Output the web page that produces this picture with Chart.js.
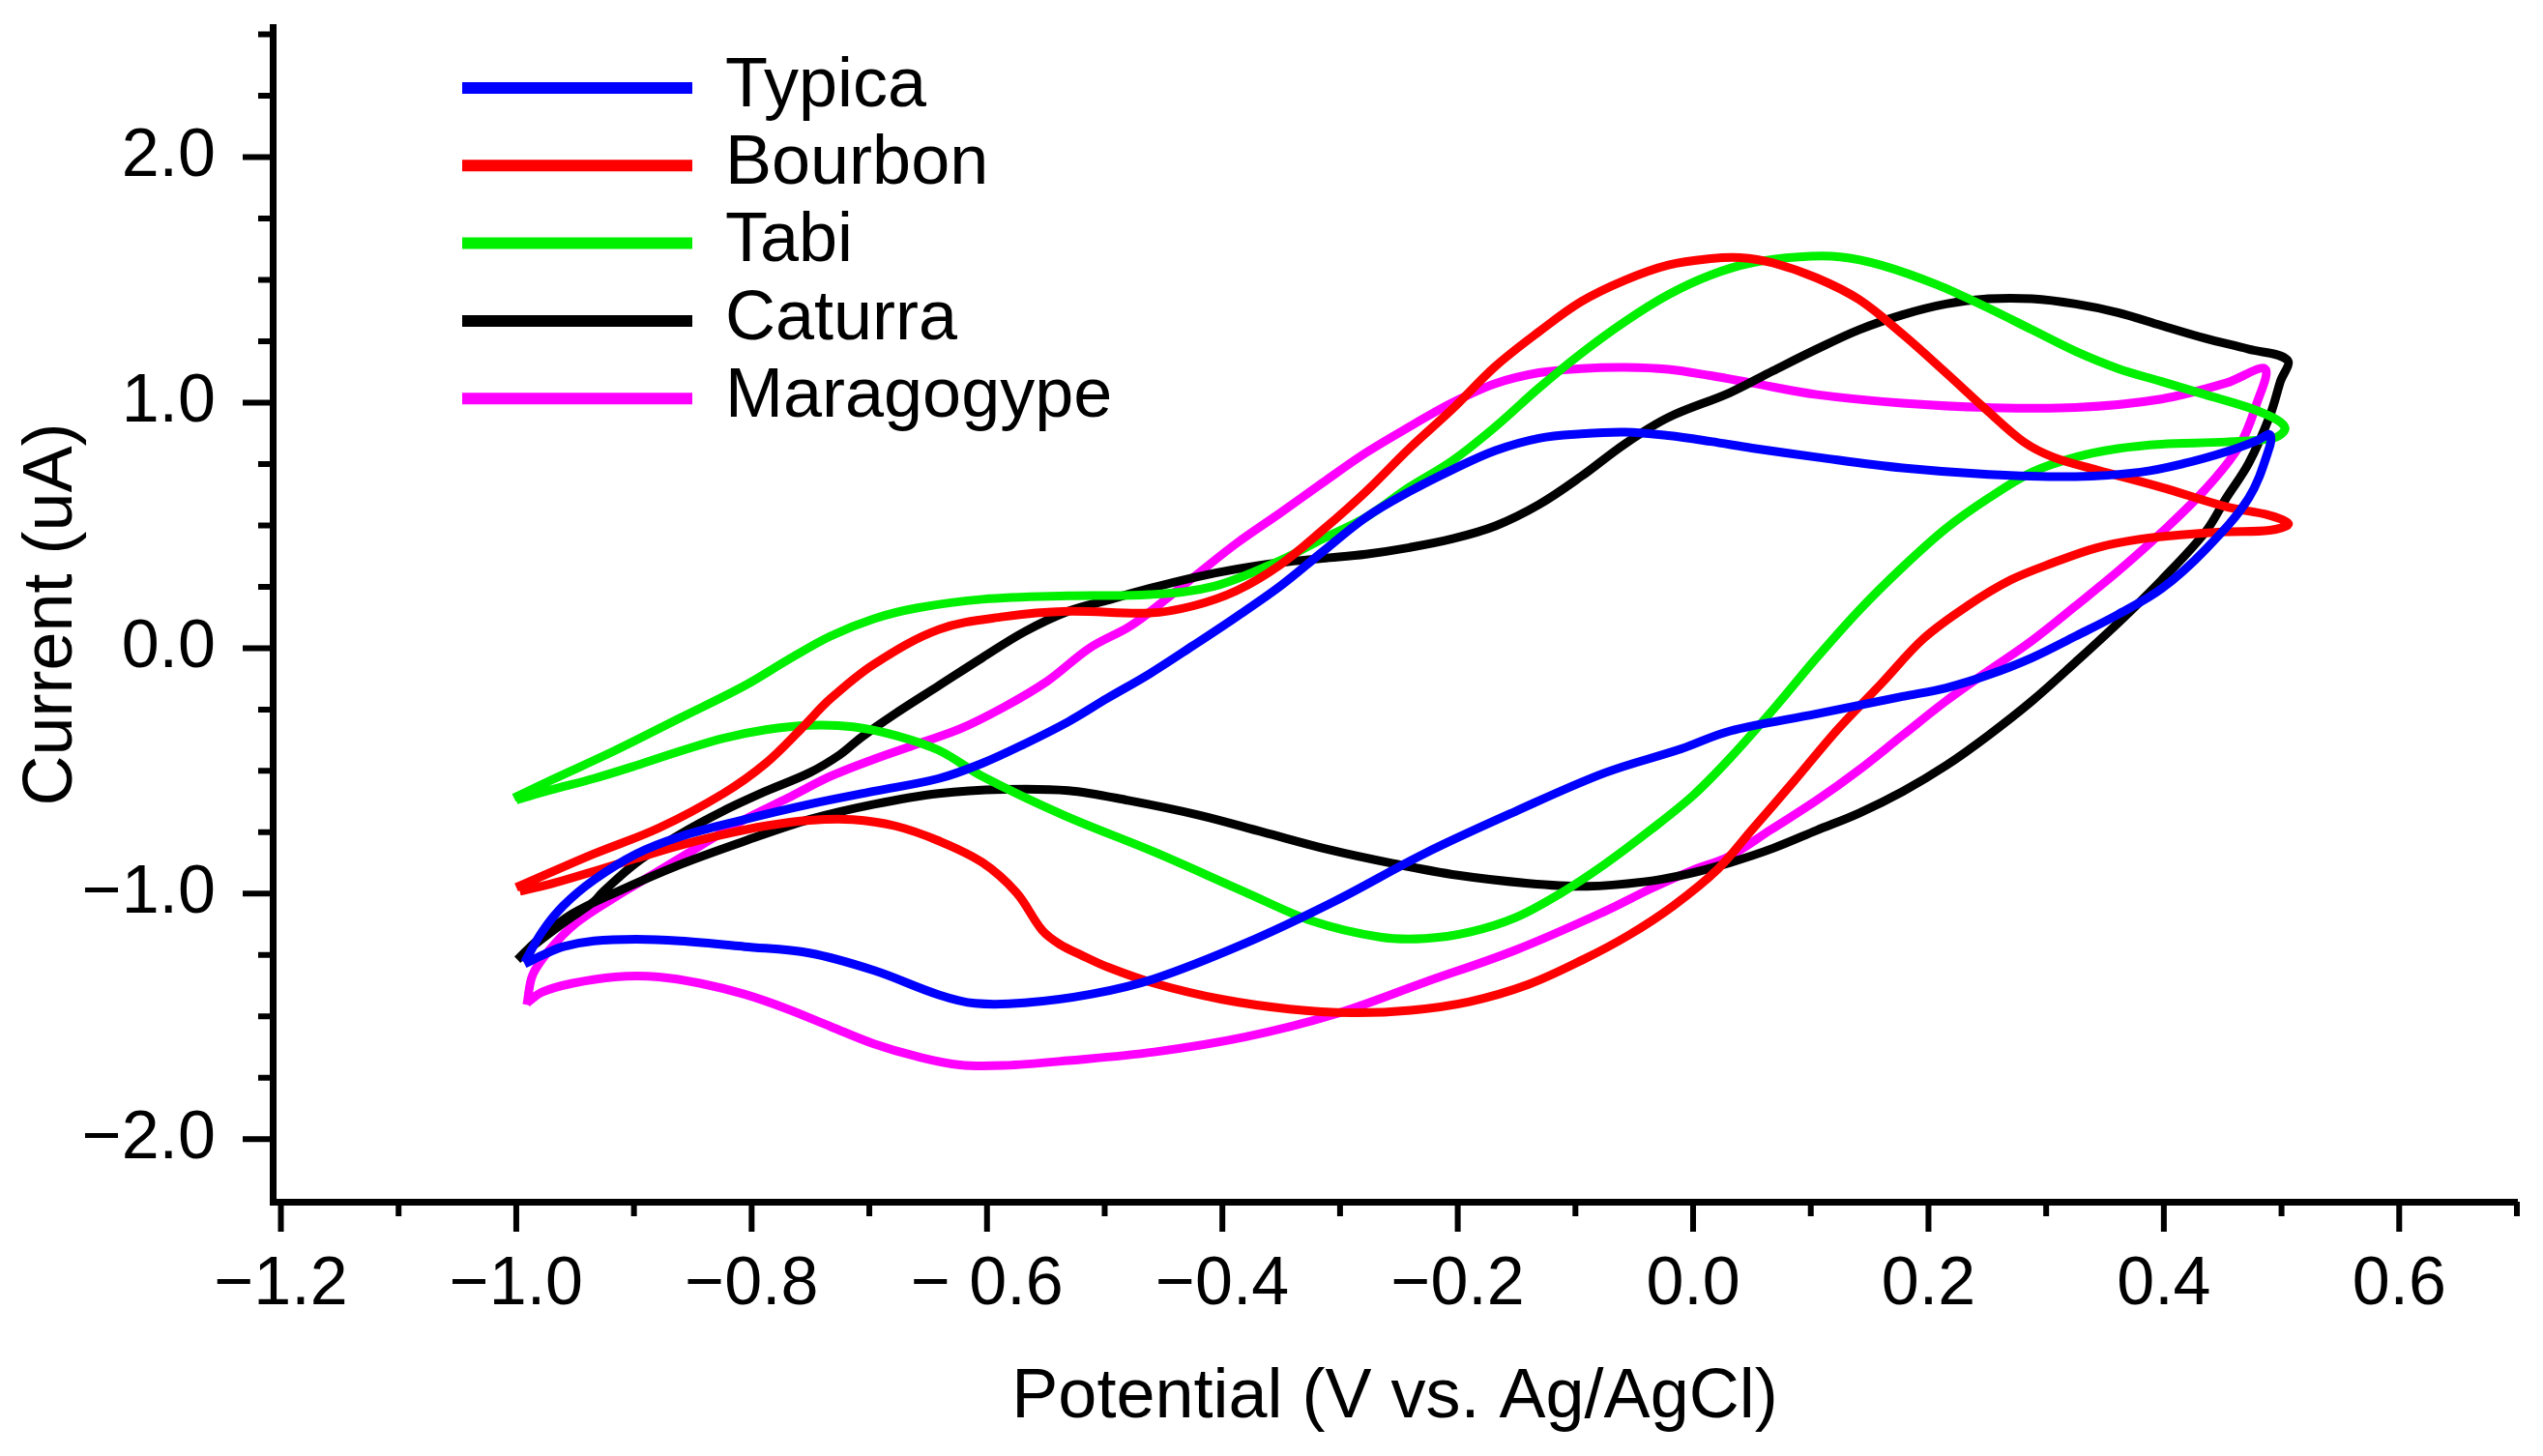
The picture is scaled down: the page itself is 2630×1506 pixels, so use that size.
<!DOCTYPE html>
<html>
<head>
<meta charset="utf-8">
<title>Cyclic voltammetry</title>
<script src="https://cdn.jsdelivr.net/npm/chart.js@4.4.1/dist/chart.umd.min.js"></script>
<style>
  html, body { margin: 0; padding: 0; background: #fff; }
  #wrap { width: 2630px; height: 1506px; }
</style>
</head>
<body>
<div id="wrap"><canvas id="cv"></canvas></div>
<script>
// Series names and colours (legend order)
const seriesNames = ['Typica', 'Bourbon', 'Tabi', 'Caturra', 'Maragogype'];
const seriesColors = ['#0000ff', '#ff0000', '#00f000', '#000000', '#ff00ff'];

// Curves: [potential V, current uA], in scan order
const typica = [
    [-0.993,-1.28],[-0.978,-1.155],[-0.960,-1.049],[-0.934,-0.944],[-0.898,-0.838],[-0.861,-0.768],
    [-0.806,-0.698],[-0.751,-0.636],[-0.696,-0.583],[-0.641,-0.531],[-0.604,-0.469],[-0.568,-0.390],
    [-0.531,-0.300],[-0.498,-0.205],[-0.462,-0.105],[-0.425,0.010],[-0.388,0.128],[-0.351,0.252],
    [-0.315,0.392],[-0.278,0.533],[-0.241,0.638],[-0.205,0.726],[-0.168,0.805],[-0.131,0.855],
    [-0.095,0.873],[-0.058,0.880],[-0.021,0.866],[0.015,0.842],[0.050,0.815],[0.105,0.778],
    [0.178,0.734],[0.251,0.708],[0.325,0.699],[0.380,0.717],[0.417,0.752],[0.453,0.800],
    [0.479,0.845],[0.490,0.870],
    [0.490,0.822],[0.472,0.611],[0.435,0.400],[0.398,0.242],[0.361,0.137],[0.325,0.049],
    [0.288,-0.039],[0.251,-0.109],[0.215,-0.162],[0.178,-0.197],[0.105,-0.268],[0.031,-0.338],
    [-0.010,-0.410],[-0.075,-0.508],[-0.151,-0.665],[-0.228,-0.836],[-0.305,-1.032],[-0.381,-1.203],
    [-0.458,-1.347],[-0.512,-1.410],[-0.568,-1.445],[-0.610,-1.447],[-0.641,-1.412],[-0.696,-1.313],
    [-0.751,-1.242],[-0.806,-1.216],[-0.861,-1.193],[-0.898,-1.186],[-0.934,-1.193],[-0.960,-1.216],
    [-0.978,-1.251],[-0.993,-1.286]
];
const bourbon = [
    [-1.000,-0.975],[-0.934,-0.838],[-0.879,-0.733],[-0.824,-0.592],[-0.788,-0.469],[-0.758,-0.329],
    [-0.733,-0.206],[-0.696,-0.065],[-0.641,0.076],[-0.586,0.128],[-0.531,0.150],[-0.462,0.143],
    [-0.425,0.172],[-0.388,0.234],[-0.351,0.339],[-0.315,0.480],[-0.278,0.638],[-0.241,0.814],
    [-0.205,0.972],[-0.168,1.148],[-0.131,1.289],[-0.095,1.412],[-0.058,1.499],[-0.021,1.561],
    [0.015,1.587],[0.040,1.591],[0.068,1.569],[0.105,1.508],[0.141,1.420],[0.178,1.279],
    [0.215,1.121],[0.251,0.963],[0.281,0.840],[0.306,0.778],[0.343,0.726],[0.398,0.655],
    [0.453,0.576],[0.490,0.541],[0.506,0.506],
    [0.490,0.480],[0.453,0.474],[0.417,0.462],[0.380,0.444],[0.343,0.409],[0.306,0.348],
    [0.270,0.278],[0.233,0.172],[0.196,0.040],[0.160,-0.144],[0.123,-0.330],[0.086,-0.540],
    [0.050,-0.740],[0.021,-0.900],[-0.017,-1.050],[-0.055,-1.170],[-0.094,-1.270],[-0.140,-1.370],
    [-0.190,-1.440],[-0.240,-1.475],[-0.290,-1.485],[-0.343,-1.470],[-0.401,-1.430],[-0.458,-1.365],
    [-0.497,-1.300],[-0.520,-1.250],[-0.538,-1.207],[-0.553,-1.150],[-0.575,-0.996],[-0.604,-0.873],
    [-0.641,-0.785],[-0.678,-0.724],[-0.714,-0.698],[-0.751,-0.701],[-0.788,-0.724],[-0.824,-0.759],
    [-0.861,-0.803],[-0.898,-0.856],[-0.934,-0.909],[-0.971,-0.961],[-0.997,-0.990]
];
const tabi = [
    [-1.002,-0.610],[-0.971,-0.539],[-0.916,-0.417],[-0.861,-0.285],[-0.806,-0.153],[-0.769,-0.047],
    [-0.733,0.049],[-0.696,0.120],[-0.659,0.164],[-0.604,0.199],[-0.531,0.213],[-0.462,0.218],
    [-0.407,0.252],[-0.351,0.357],[-0.315,0.445],[-0.278,0.533],[-0.241,0.656],[-0.205,0.762],
    [-0.168,0.902],[-0.131,1.060],[-0.095,1.201],[-0.058,1.330],[-0.021,1.440],[0.015,1.520],
    [0.050,1.570],[0.090,1.594],[0.125,1.594],[0.160,1.560],[0.207,1.481],[0.251,1.385],
    [0.288,1.297],[0.325,1.209],[0.361,1.139],[0.398,1.086],[0.435,1.033],[0.472,0.980],
    [0.497,0.928],[0.503,0.893],
    [0.494,0.857],[0.453,0.840],[0.398,0.831],[0.361,0.813],[0.325,0.778],[0.288,0.717],
    [0.251,0.611],[0.215,0.488],[0.178,0.330],[0.141,0.154],[0.105,-0.039],[0.068,-0.250],
    [0.031,-0.450],[0.000,-0.600],[-0.036,-0.740],[-0.075,-0.880],[-0.113,-1.000],[-0.151,-1.098],
    [-0.190,-1.157],[-0.228,-1.183],[-0.266,-1.177],[-0.324,-1.111],[-0.381,-0.993],[-0.458,-0.830],
    [-0.535,-0.680],[-0.604,-0.522],[-0.641,-0.416],[-0.678,-0.355],[-0.714,-0.320],[-0.751,-0.314],
    [-0.788,-0.332],[-0.824,-0.367],[-0.861,-0.420],[-0.898,-0.478],[-0.934,-0.531],[-0.971,-0.578],
    [-1.000,-0.618]
];
const caturra = [
    [-0.999,-1.269],[-0.989,-1.225],[-0.960,-1.119],[-0.934,-1.032],[-0.927,-0.996],[-0.898,-0.874],
    [-0.861,-0.759],[-0.824,-0.663],[-0.788,-0.583],[-0.751,-0.508],[-0.725,-0.434],[-0.707,-0.364],
    [-0.678,-0.267],[-0.641,-0.153],[-0.604,-0.039],[-0.568,0.067],[-0.531,0.150],[-0.498,0.195],
    [-0.462,0.243],[-0.425,0.287],[-0.388,0.322],[-0.351,0.348],[-0.315,0.366],[-0.278,0.383],
    [-0.241,0.410],[-0.205,0.445],[-0.168,0.498],[-0.131,0.585],[-0.095,0.700],[-0.058,0.832],
    [-0.021,0.940],[0.031,1.040],[0.068,1.130],[0.105,1.218],[0.141,1.297],[0.178,1.358],
    [0.215,1.402],[0.251,1.423],[0.288,1.423],[0.325,1.402],[0.361,1.367],[0.398,1.314],
    [0.435,1.262],[0.472,1.218],[0.505,1.174],
    [0.499,1.086],[0.490,0.945],[0.472,0.752],[0.453,0.611],[0.435,0.471],[0.398,0.277],
    [0.361,0.102],[0.325,-0.057],[0.288,-0.215],[0.251,-0.355],[0.215,-0.478],[0.178,-0.584],
    [0.141,-0.672],[0.105,-0.742],[0.068,-0.815],[0.031,-0.874],[-0.005,-0.920],[-0.042,-0.952],
    [-0.090,-0.970],[-0.140,-0.958],[-0.200,-0.925],[-0.255,-0.877],[-0.310,-0.820],[-0.365,-0.750],
    [-0.420,-0.680],[-0.480,-0.620],[-0.531,-0.580],[-0.586,-0.575],[-0.641,-0.592],[-0.696,-0.636],
    [-0.751,-0.698],[-0.806,-0.786],[-0.861,-0.882],[-0.916,-0.996],[-0.953,-1.084],[-0.982,-1.190],
    [-0.999,-1.269]
];
const maragogype = [
    [-0.991,-1.453],[-0.986,-1.330],[-0.971,-1.225],[-0.949,-1.119],[-0.916,-1.014],[-0.879,-0.908],
    [-0.843,-0.803],[-0.806,-0.698],[-0.769,-0.610],[-0.733,-0.522],[-0.696,-0.452],[-0.659,-0.390],
    [-0.623,-0.329],[-0.586,-0.241],[-0.549,-0.135],[-0.513,0.000],[-0.480,0.085],[-0.462,0.146],
    [-0.425,0.287],[-0.388,0.427],[-0.351,0.550],[-0.315,0.673],[-0.278,0.796],[-0.241,0.902],
    [-0.205,0.999],[-0.168,1.078],[-0.131,1.122],[-0.095,1.139],[-0.058,1.144],[-0.021,1.136],
    [0.015,1.110],[0.050,1.080],[0.105,1.033],[0.178,0.998],[0.251,0.980],[0.325,0.980],
    [0.398,1.015],[0.453,1.080],[0.486,1.138],
    [0.479,0.998],[0.464,0.822],[0.435,0.646],[0.398,0.471],[0.361,0.313],[0.325,0.172],
    [0.288,0.031],[0.251,-0.092],[0.215,-0.215],[0.178,-0.355],[0.141,-0.496],[0.105,-0.620],
    [0.066,-0.740],[0.030,-0.850],[0.002,-0.900],[-0.036,-0.980],[-0.075,-1.072],[-0.151,-1.230],
    [-0.228,-1.361],[-0.305,-1.492],[-0.381,-1.584],[-0.458,-1.645],[-0.531,-1.680],[-0.586,-1.700],
    [-0.623,-1.698],[-0.659,-1.664],[-0.696,-1.612],[-0.733,-1.541],[-0.769,-1.471],[-0.806,-1.410],
    [-0.843,-1.366],[-0.879,-1.339],[-0.916,-1.339],[-0.953,-1.366],[-0.978,-1.401],[-0.991,-1.445]
];
const seriesData = [typica, bourbon, tabi, caturra, maragogype];

// Axes: labelled ticks and unlabelled minor ticks
const xTickValues = [-1.2, -1.0, -0.8, -0.6, -0.4, -0.2, 0.0, 0.2, 0.4, 0.6];
const xTickLabels = ['\u22121.2', '\u22121.0', '\u22120.8', '\u2212 0.6', '\u22120.4', '\u22120.2', '0.0', '0.2', '0.4', '0.6'];
const xMinorTicks = [-1.1, -0.9, -0.7, -0.5, -0.3, -0.1, 0.1, 0.3, 0.5, 0.7];
const yTickValues = [-2, -1, 0, 1, 2];
const yTickLabels = ['\u22122.0', '\u22121.0', '0.0', '1.0', '2.0'];
const yMinorTicks = [-1.75, -1.5, -1.25, -0.75, -0.5, -0.25, 0.25, 0.5, 0.75, 1.25, 1.5, 1.75, 2.25, 2.5];

const FONT = '"Liberation Sans", Arial, Helvetica, sans-serif';

// Draws the outward tick marks at the values above
const tickMarks = {
    id: 'tickMarks',
    afterDraw(chart) {
        const ctx = chart.ctx;
        const xs = chart.scales.x, ys = chart.scales.y;
        const area = chart.chartArea;
        ctx.save();
        ctx.strokeStyle = '#000';
        ctx.lineWidth = 6;
        ctx.lineCap = 'butt';
        ctx.beginPath();
        xTickValues.forEach(v => { const p = xs.getPixelForValue(v); ctx.moveTo(p, area.bottom); ctx.lineTo(p, area.bottom + 31); });
        xMinorTicks.forEach(v => { const p = xs.getPixelForValue(v); ctx.moveTo(p, area.bottom); ctx.lineTo(p, area.bottom + 15); });
        yTickValues.forEach(v => { const p = ys.getPixelForValue(v); ctx.moveTo(area.left, p); ctx.lineTo(area.left - 31, p); });
        yMinorTicks.forEach(v => { const p = ys.getPixelForValue(v); ctx.moveTo(area.left, p); ctx.lineTo(area.left - 15, p); });
        ctx.stroke();
        ctx.restore();
    }
};

// Legend drawn inside the plot, upper left
const insideLegend = {
    id: 'insideLegend',
    afterDraw(chart) {
        const ctx = chart.ctx;
        ctx.save();
        ctx.font = '72px ' + FONT;
        ctx.textBaseline = 'middle';
        ctx.textAlign = 'left';
        chart.data.datasets.forEach((ds, i) => {
            const y = 91 + i * 80.3;
            ctx.strokeStyle = ds.borderColor;
            ctx.lineWidth = 12;
            ctx.beginPath();
            ctx.moveTo(478, y);
            ctx.lineTo(716, y);
            ctx.stroke();
            ctx.fillStyle = '#000';
            ctx.fillText(ds.label, 750, y - 1);
        });
        ctx.restore();
    }
};

const datasets = seriesNames.map((name, i) => ({
    label: name,
    data: seriesData[i].map(p => ({ x: p[0], y: p[1] })),
    borderColor: seriesColors[i],
    backgroundColor: seriesColors[i],
    borderWidth: 9,
    pointRadius: 0,
    showLine: true,
    tension: 0.35,
    fill: false
}));

new Chart(document.getElementById('cv'), {
    type: 'scatter',
    data: { datasets: datasets },
    options: {
        responsive: true,
        maintainAspectRatio: false,
        animation: false,
        devicePixelRatio: 1,
        layout: { padding: { left: 0, top: 28, right: 27, bottom: 0 } },
        plugins: {
            legend: { display: false },
            tooltip: { enabled: false }
        },
        scales: {
            x: {
                type: 'linear',
                min: -1.207,
                max: 0.7,
                afterFit: s => { s.height = 263; s.paddingLeft = 0; s.paddingRight = 0; },
                afterBuildTicks: s => { s.ticks = xTickValues.map(v => ({ value: v })); },
                grid: { display: true, drawOnChartArea: false, drawTicks: false },
                border: { display: true, color: '#000', width: 7 },
                ticks: {
                    color: '#000',
                    font: { family: FONT, size: 70 },
                    padding: 45,
                    maxRotation: 0,
                    autoSkip: false,
                    callback: (v, i) => xTickLabels[i]
                },
                title: {
                    display: true,
                    text: 'Potential (V vs. Ag/AgCl)',
                    color: '#000',
                    font: { family: FONT, size: 72 },
                    padding: { top: 0, bottom: 17 }
                }
            },
            y: {
                type: 'linear',
                min: -2.255,
                max: 2.53,
                afterFit: s => { s.width = 282; s.paddingTop = 0; s.paddingBottom = 0; },
                afterBuildTicks: s => { s.ticks = yTickValues.map(v => ({ value: v })); },
                grid: { display: true, drawOnChartArea: false, drawTicks: false },
                border: { display: true, color: '#000', width: 7 },
                ticks: {
                    color: '#000',
                    font: { family: FONT, size: 70 },
                    padding: 59,
                    autoSkip: false,
                    callback: (v, i) => yTickLabels[i]
                },
                title: {
                    display: true,
                    text: 'Current (uA)',
                    color: '#000',
                    font: { family: FONT, size: 72 },
                    padding: { top: 11, bottom: 0 }
                }
            }
        }
    },
    plugins: [tickMarks, insideLegend]
});
</script>
</body>
</html>
